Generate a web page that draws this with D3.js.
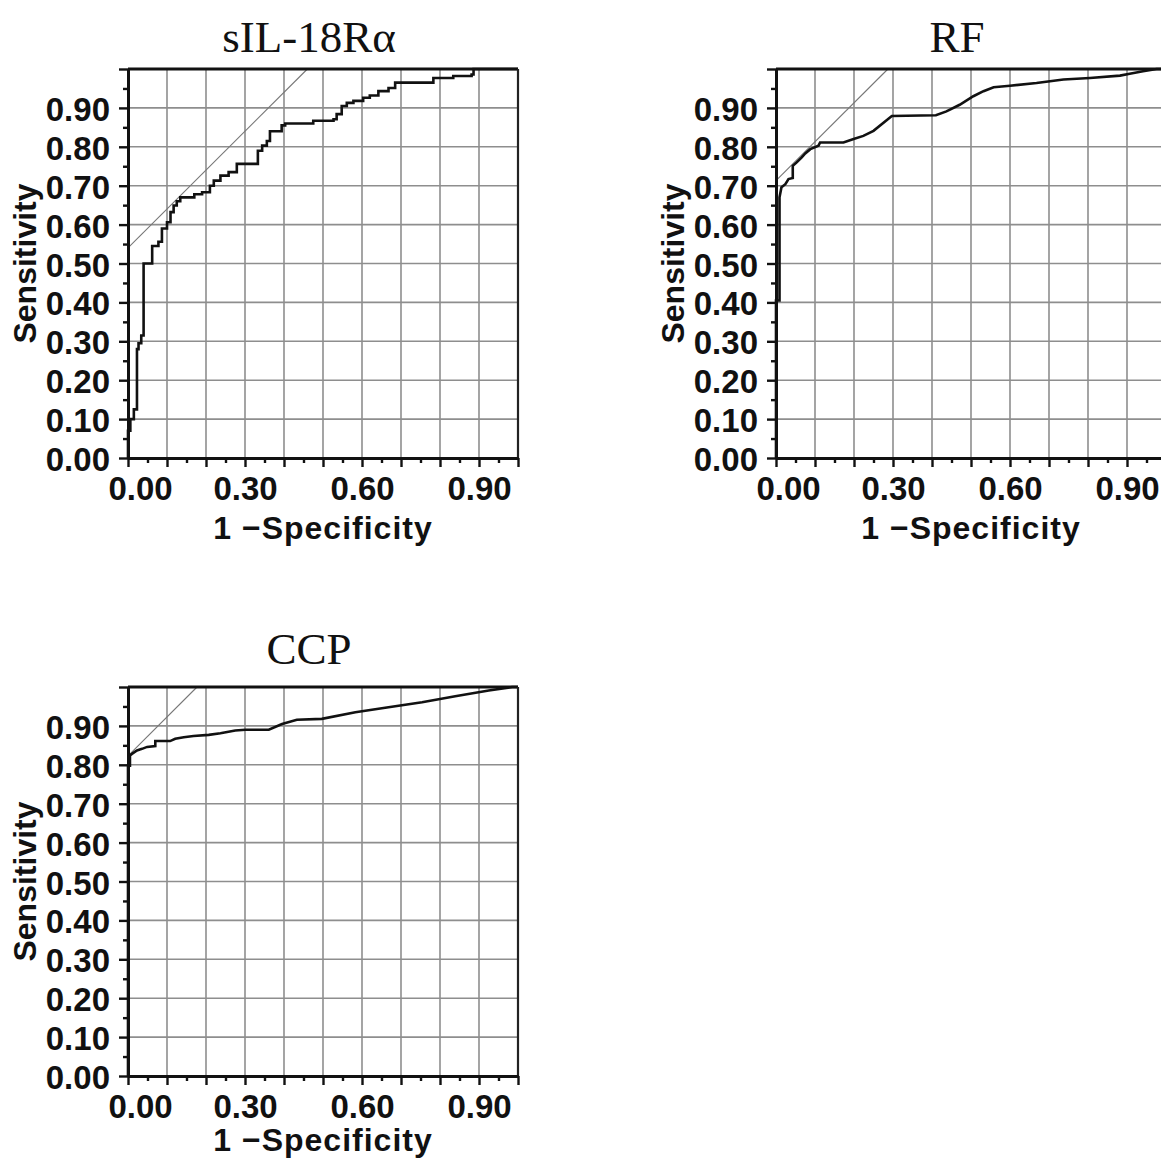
<!DOCTYPE html>
<html>
<head>
<meta charset="utf-8">
<script src="https://cdn.jsdelivr.net/npm/d3@7"></script>
<style>
body { margin: 0; background: #fff; }
svg { display: block; }
</style>
</head>
<body>
<svg id="fig" width="1161" height="1162"></svg>
<script>
// ROC data: [1-specificity, sensitivity]
var titles = ["sIL-18R\u03b1", "RF", "CCP"];

var sil18Roc = [[0,0],[0,0.07],[0.006,0.10],[0.015,0.125],[0.023,0.28],[0.027,0.295],[0.034,0.315],
    [0.04,0.50],[0.062,0.545],[0.078,0.556],[0.087,0.59],[0.10,0.606],[0.109,0.632],[0.117,0.649],
    [0.125,0.66],[0.134,0.67],[0.17,0.678],[0.19,0.683],[0.21,0.70],[0.22,0.713],[0.237,0.726],
    [0.258,0.735],[0.279,0.756],[0.333,0.79],[0.344,0.803],[0.356,0.815],[0.364,0.84],[0.394,0.855],
    [0.403,0.86],[0.475,0.867],[0.527,0.871],[0.535,0.884],[0.548,0.905],[0.561,0.913],[0.578,0.918],
    [0.603,0.926],[0.62,0.932],[0.642,0.943],[0.668,0.951],[0.685,0.965],[0.783,0.977],[0.834,0.982],
    [0.881,0.986],[0.886,1.0],[1.0,1.0]];

var rfRoc = [[0,0],[0,0.405],[0.009,0.405],[0.009,0.67],[0.014,0.696],[0.024,0.704],[0.032,0.717],
    [0.043,0.72],[0.043,0.751],[0.053,0.76],[0.066,0.773],[0.075,0.783],[0.088,0.794],[0.109,0.803],
    [0.113,0.811],[0.173,0.811],[0.199,0.82],[0.224,0.828],[0.25,0.841],[0.297,0.879],[0.41,0.881],
    [0.437,0.891],[0.471,0.908],[0.506,0.93],[0.532,0.943],[0.558,0.953],[0.60,0.957],[0.668,0.964],
    [0.737,0.973],[0.805,0.977],[0.882,0.983],[0.907,0.988],[0.941,0.994],[0.976,1.0],[1,1]];

var ccpRoc = [[0,0],[0,0.798],[0.005,0.798],[0.005,0.824],[0.01,0.828],[0.023,0.837],[0.036,0.841],
    [0.049,0.846],[0.07,0.848],[0.07,0.861],[0.108,0.861],[0.121,0.867],[0.143,0.871],[0.168,0.874],
    [0.207,0.877],[0.237,0.881],[0.275,0.888],[0.301,0.89],[0.361,0.89],[0.395,0.905],[0.433,0.916],
    [0.497,0.918],[0.583,0.935],[0.668,0.948],[0.754,0.961],[0.839,0.976],[0.925,0.991],[0.985,1.0],[1,1]];

// 45 degree line through the best cut-off (sensitivity at 1-specificity = 0)
var cutIntercepts = [0.54, 0.713, 0.823];

var majorTicks = [0, 0.1, 0.2, 0.3, 0.4, 0.5, 0.6, 0.7, 0.8, 0.9, 1.0];
var minorTicks = [0.05, 0.15, 0.25, 0.35, 0.45, 0.55, 0.65, 0.75, 0.85, 0.95];
var gridValues = [0.1, 0.2, 0.3, 0.4, 0.5, 0.6, 0.7, 0.8, 0.9];
var yTickLabels = [0, 0.1, 0.2, 0.3, 0.4, 0.5, 0.6, 0.7, 0.8, 0.9];
var xTickLabels = [0, 0.3, 0.6, 0.9];

var W = 390, H = 389;
var svg = d3.select("#fig");
var fmt = d3.format(".2f");
var sans = "'Liberation Sans', Arial, sans-serif";

var panels = [
    { ox: 128, oy: 69, titleY: -17, xlabY: 81, data: sil18Roc, curve: d3.curveStepAfter },
    { ox: 776, oy: 69, titleY: -17, xlabY: 81, data: rfRoc, curve: d3.curveLinear },
    { ox: 128, oy: 687, titleY: -23, xlabY: 75, data: ccpRoc, curve: d3.curveLinear }
];

panels.forEach(function (p, i) {
    var x = d3.scaleLinear().domain([0, 1]).range([0, W]);
    var y = d3.scaleLinear().domain([0, 1]).range([H, 0]);
    var g = svg.append("g").attr("transform", "translate(" + p.ox + "," + p.oy + ")");

    // grid
    g.append("g").selectAll("line").data(gridValues).enter().append("line")
        .attr("x1", d => x(d)).attr("x2", d => x(d)).attr("y1", 0).attr("y2", H)
        .attr("stroke", "#8e8e8e").attr("stroke-width", 1.6);
    g.append("g").selectAll("line").data(gridValues).enter().append("line")
        .attr("y1", d => y(d)).attr("y2", d => y(d)).attr("x1", 0).attr("x2", W)
        .attr("stroke", "#8e8e8e").attr("stroke-width", 1.6);

    // reference line
    var c = cutIntercepts[i];
    g.append("line")
        .attr("x1", x(0)).attr("y1", y(c))
        .attr("x2", x(1 - c)).attr("y2", y(1))
        .attr("stroke", "#777").attr("stroke-width", 1.1);

    // roc curve
    g.append("path").datum(p.data)
        .attr("fill", "none").attr("stroke", "#111").attr("stroke-width", 2.6)
        .attr("stroke-linejoin", "miter")
        .attr("d", d3.line().x(d => x(d[0])).y(d => y(d[1])).curve(p.curve));

    // frame top / right
    g.append("line").attr("x1", 0).attr("x2", W).attr("y1", 0).attr("y2", 0)
        .attr("stroke", "#111").attr("stroke-width", 3);
    g.append("line").attr("x1", W).attr("x2", W).attr("y1", 0).attr("y2", H)
        .attr("stroke", "#222").attr("stroke-width", 2.2);

    // y axis
    var yMinor = g.append("g").call(d3.axisLeft(y).tickValues(minorTicks).tickSize(5).tickSizeOuter(0).tickFormat(""));
    var yAxis = g.append("g").call(d3.axisLeft(y).tickValues(majorTicks).tickSize(9).tickSizeOuter(0)
        .tickPadding(9)
        .tickFormat(d => yTickLabels.indexOf(d) >= 0 ? fmt(d) : ""));
    // x axis
    var xMinor = g.append("g").attr("transform", "translate(0," + H + ")")
        .call(d3.axisBottom(x).tickValues(minorTicks).tickSize(5).tickSizeOuter(0).tickFormat(""));
    var xAxis = g.append("g").attr("transform", "translate(0," + H + ")")
        .call(d3.axisBottom(x).tickValues(majorTicks).tickSize(9).tickSizeOuter(0)
            .tickPadding(10)
            .tickFormat(d => xTickLabels.indexOf(d) >= 0 ? fmt(d) : ""));

    [yMinor, yAxis, xMinor, xAxis].forEach(function (a) {
        a.select(".domain").attr("stroke", "#111").attr("stroke-width", 3);
        a.selectAll(".tick line").attr("stroke", "#111").attr("stroke-width", 2.4);
    });
    yAxis.selectAll("text").attr("font-family", sans).attr("font-weight", "bold")
        .attr("font-size", 33).attr("fill", "#111").attr("dy", "0.38em");
    xAxis.selectAll("text").attr("font-family", sans).attr("font-weight", "bold")
        .attr("font-size", 33).attr("fill", "#111").attr("dy", "0.70em")
        .attr("dx", d => d === 0 ? 12 : 0);

    // axis titles
    g.append("text")
        .attr("transform", "translate(-92," + (H / 2) + ") rotate(-90)")
        .attr("text-anchor", "middle")
        .attr("font-family", sans).attr("font-weight", "bold").attr("font-size", 32)
        .attr("fill", "#111")
        .text("Sensitivity");
    g.append("text")
        .attr("x", W / 2).attr("y", H + p.xlabY)
        .attr("text-anchor", "middle")
        .attr("font-family", sans).attr("font-weight", "bold").attr("font-size", 32)
        .attr("letter-spacing", 1)
        .attr("fill", "#111")
        .text("1 \u2212Specificity");

    // panel title
    g.append("text")
        .attr("x", W / 2 - 14).attr("y", p.titleY)
        .attr("text-anchor", "middle")
        .attr("font-family", "'Liberation Serif', 'Times New Roman', serif")
        .attr("font-size", 45).attr("fill", "#111")
        .text(titles[i]);
});
</script>
</body>
</html>
